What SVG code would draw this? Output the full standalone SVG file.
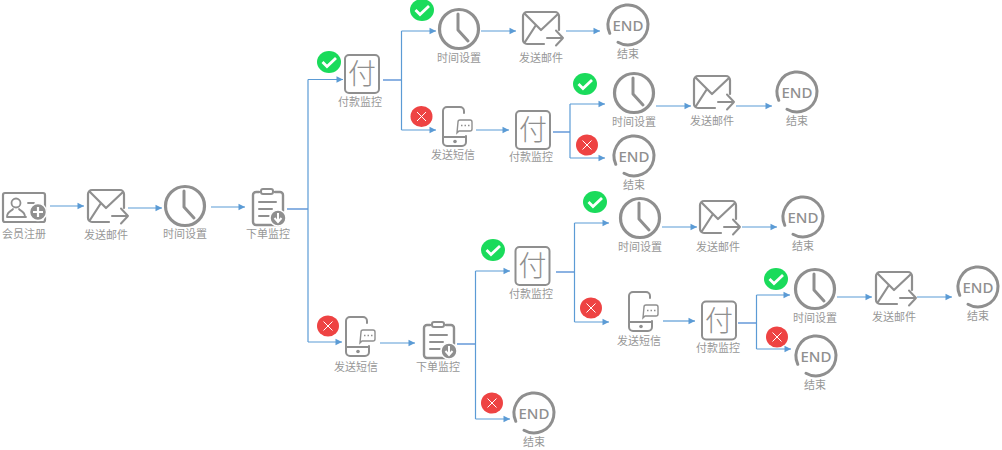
<svg xmlns="http://www.w3.org/2000/svg" width="1002" height="450" viewBox="0 0 1002 450">
<style>
text{font-family:"Noto Sans CJK SC","Liberation Sans",sans-serif;font-size:11px;fill:#979797;text-anchor:middle}
.i{fill:none;stroke:#8f8f8f;stroke-linecap:round;stroke-linejoin:round}
.c path{fill:none;stroke:#5b9bd5;stroke-width:1.200;marker-end:url(#a)}
.c path.s{stroke:#3f7fcf;marker-end:none}
.c path.t{marker-end:none}
</style>
<defs>
<marker id="a" markerUnits="userSpaceOnUse" markerWidth="8" markerHeight="8" refX="7" refY="4" orient="auto"><path d="M0.500 0.800L7 4L0.500 7.200z" fill="#5b9bd5"/></marker>
<g id="clock"><circle r="19.500" class="i" stroke-width="3.200"/><path d="M-1-15V1L9 12" class="i" stroke-width="3"/></g>
<g id="mail"><path d="M18 2V-12a4 4 0 0 0-4-4H-14a4 4 0 0 0-4 4V12a4 4 0 0 0 4 4H3M-16-14L0 2L17-14M-16 14L-5-3" class="i" stroke-width="2.200"/><path d="M6 10H22M15 2.500L22 10L15 17.500" class="i" stroke-width="2"/></g>
<g id="end"><path d="M-18.200 8.300A20 20 0 1 1 -10 17.300" class="i" stroke-width="3"/><text y="5.500" style="font-family:'Noto Sans','Liberation Sans',sans-serif;font-size:15px;font-weight:500;fill:#8f8f8f">END</text></g>
<g id="pay"><rect x="-17" y="-19" width="34" height="38" rx="4" class="i" stroke-width="2"/><text y="10" style="font-size:28px;font-weight:300;fill:#8f8f8f">付</text></g>
<g id="phone"><path d="M9-14V-16a4 4 0 0 0-4-4H-8a4 4 0 0 0-4 4V15a4 4 0 0 0 4 4H7a4 4 0 0 0 4-4V9M-12 10H11" class="i" stroke-width="2"/><circle cy="14.500" r="1.800" fill="#8f8f8f"/><path d="M3-5a2 2 0 0 1 2-2H15a2 2 0 0 1 2 2V2a2 2 0 0 1-2 2H4L2 6z" fill="#fff" stroke="#8f8f8f" stroke-width="1.400"/><path d="M6-1.500h1.500M9.500-1.500h1.500M13-1.500h1.500" stroke="#8f8f8f" stroke-width="1.500"/></g>
<g id="clip"><path d="M-9-15H-12a3 3 0 0 0-3 3V15a3 3 0 0 0 3 3H12M7-15H12a3 3 0 0 1 3 3V4" class="i" stroke-width="2.400"/><rect x="-7" y="-18" width="12" height="5" rx="2" class="i" stroke-width="2"/><path d="M-9-5H8M-9 2H4M-9 9H1" class="i" stroke-width="2"/><circle cx="10" cy="11" r="8" fill="#8f8f8f" stroke="#fff" stroke-width="1.500"/><path d="M10 6V14M6.500 11L10 15L13.500 11" fill="none" stroke="#fff" stroke-width="2"/></g>
<g id="ok"><ellipse rx="12" ry="11" fill="#1adb5b"/><path d="M-6.500 0L-2 4.500L7-4" fill="none" stroke="#fff" stroke-width="2.800"/></g>
<g id="no"><ellipse rx="11" ry="10.500" fill="#ee4343"/><path d="M-4.500-4.500L4.500 4.500M4.500-4.500L-4.500 4.500" stroke="#fff" stroke-width="1"/></g>
</defs>
<g id="connectors" class="c">
<path d="M50 206H84"/><path d="M128 208H162"/><path d="M211 207H245"/>
<path class="s" d="M287 209H308"/><path class="t" d="M308 342V79.500"/><path d="M308 79.500H343"/><path d="M308 342H342"/>
<path class="s" d="M383 80H401.500"/><path class="t" d="M401.500 130V31"/><path d="M401.500 31H436"/><path d="M401.500 130H436"/>
<path d="M481 31H516"/><path d="M566 31H600"/>
<path d="M476 130H509"/>
<path class="s" d="M553 132H570"/><path class="t" d="M570 158V104"/><path d="M570 104H605"/><path d="M570 158H605"/>
<path d="M656 106H691"/><path d="M736 106H772"/>
<path d="M380 343H415"/>
<path class="s" d="M457 344H475.500"/><path class="t" d="M475.500 419V271"/><path d="M475.500 271H510"/><path d="M475.500 419H510"/>
<path class="s" d="M556 272H574.500"/><path class="t" d="M574.500 322V223"/><path d="M574.500 223H609"/><path d="M574.500 322H609"/>
<path d="M662 227H697"/><path d="M742 227H777"/><path d="M663 321H695"/>
<path class="s" d="M738 323H756.500"/><path class="t" d="M756.500 349V295"/><path d="M756.500 295H790"/><path d="M756.500 349H791"/>
<path d="M837 297H872"/><path d="M917 297H952"/>
</g>
<g id="register"><rect x="3" y="193" width="42" height="29" rx="2" class="i" stroke-width="2.200"/><circle cx="16" cy="203" r="4.500" class="i" stroke-width="1.800"/><path d="M7 217C7 211 12 211 13 209M25 217C25 211 20 211 19 209M7 217H26M28 203H34" class="i" stroke-width="1.800"/><circle cx="38" cy="212" r="8.500" fill="#8f8f8f" stroke="#fff" stroke-width="1.500"/><path d="M33 212H43M38 207V217" stroke="#fff" stroke-width="2.200"/><text x="24" y="238">会员注册</text></g>
<g id="mail1"><use href="#mail" x="106" y="206"/><text x="106" y="239">发送邮件</text></g>
<g id="clock1"><use href="#clock" x="185" y="206"/><text x="185" y="238">时间设置</text></g>
<g id="clip1"><use href="#clip" x="268" y="207"/><text x="268" y="238">下单监控</text></g>
<g id="pay1"><use href="#pay" x="362" y="74"/><text x="360" y="106">付款监控</text></g>
<g id="ok1"><use href="#ok" x="329" y="62"/></g>
<g id="ok2"><use href="#ok" x="422" y="10"/></g>
<g id="clock2"><use href="#clock" x="459" y="29"/><text x="459" y="62">时间设置</text></g>
<g id="mail2"><use href="#mail" x="541" y="28"/><text x="541" y="62">发送邮件</text></g>
<g id="end1"><use href="#end" x="628" y="25"/><text x="628" y="58">结束</text></g>
<g id="no1"><use href="#no" x="421.500" y="116.500"/></g>
<g id="phone1"><use href="#phone" x="455" y="127"/><text x="453" y="159">发送短信</text></g>
<g id="pay2"><use href="#pay" x="533" y="130"/><text x="531" y="161">付款监控</text></g>
<g id="ok3"><use href="#ok" x="585" y="84"/></g>
<g id="no2"><use href="#no" x="587" y="145"/></g>
<g id="clock3"><use href="#clock" x="634" y="93"/><text x="634" y="126">时间设置</text></g>
<g id="end2"><use href="#end" x="634" y="156"/><text x="634" y="189">结束</text></g>
<g id="mail3"><use href="#mail" x="712" y="92"/><text x="712" y="125">发送邮件</text></g>
<g id="end3"><use href="#end" x="797" y="92"/><text x="797" y="125">结束</text></g>
<g id="no3"><use href="#no" x="328" y="326"/></g>
<g id="phone2"><use href="#phone" x="358" y="337"/><text x="356" y="371">发送短信</text></g>
<g id="clip2"><use href="#clip" x="439" y="340"/><text x="438" y="371">下单监控</text></g>
<g id="ok4"><use href="#ok" x="493" y="250"/></g>
<g id="no4"><use href="#no" x="492" y="403"/></g>
<g id="end4"><use href="#end" x="534" y="413"/><text x="534" y="446">结束</text></g>
<g id="pay3"><use href="#pay" x="532.500" y="266"/><text x="531" y="298">付款监控</text></g>
<g id="ok5"><use href="#ok" x="595" y="202"/></g>
<g id="no5"><use href="#no" x="591" y="308"/></g>
<g id="clock4"><use href="#clock" x="640" y="218"/><text x="640" y="251">时间设置</text></g>
<g id="mail4"><use href="#mail" x="718" y="217"/><text x="718" y="251">发送邮件</text></g>
<g id="end5"><use href="#end" x="803" y="217"/><text x="803" y="250">结束</text></g>
<g id="phone3"><use href="#phone" x="641" y="312"/><text x="639" y="345">发送短信</text></g>
<g id="pay4"><use href="#pay" x="719" y="320.500"/><text x="718" y="352">付款监控</text></g>
<g id="ok6"><use href="#ok" x="776" y="279"/></g>
<g id="no6"><use href="#no" x="777" y="337"/></g>
<g id="clock5"><use href="#clock" x="815" y="289"/><text x="815" y="322">时间设置</text></g>
<g id="end6"><use href="#end" x="816" y="356"/><text x="815" y="389">结束</text></g>
<g id="mail5"><use href="#mail" x="894" y="288"/><text x="894" y="321">发送邮件</text></g>
<g id="end7"><use href="#end" x="978" y="287"/><text x="978" y="320">结束</text></g>
</svg>
